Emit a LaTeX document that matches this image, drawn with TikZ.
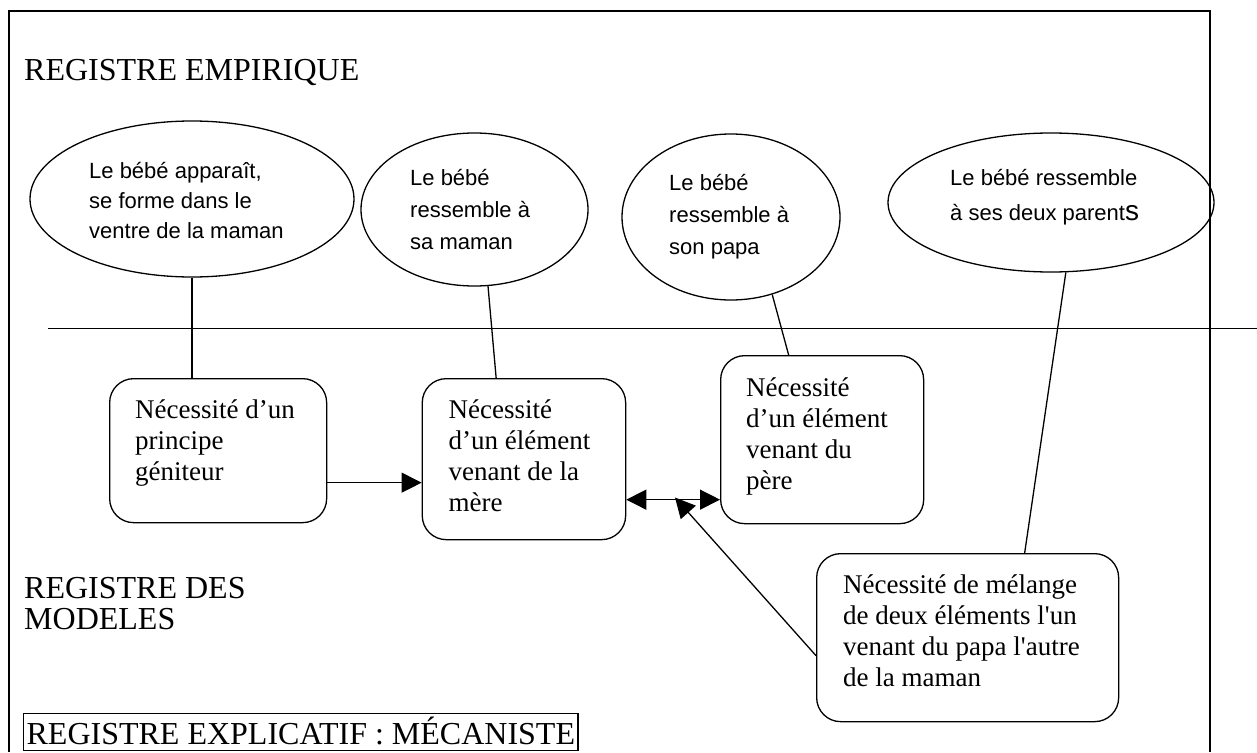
\documentclass[tikz,border=0pt]{standalone}
\usepackage{fontspec}
\setmainfont{Liberation Serif}
\newfontfamily\arialf{Liberation Sans}
\usetikzlibrary{shapes.geometric,arrows.meta,calc}
\begin{document}
\begin{tikzpicture}[x=1pt,y=-1pt,
  ell/.style={draw, ellipse, line width=1.3pt, inner sep=0pt},
  ebox/.style={draw, rounded corners=24pt, line width=1.3pt, inner sep=0pt, anchor=north west},
  etext/.style={anchor=north west, inner sep=0pt, align=left, font=\arialf\fontsize{22}{#1}\selectfont},
  etext/.default=30,
  btext/.style={anchor=north west, inner sep=0pt, align=left, font=\fontsize{27}{31}\selectfont},
  lab/.style={anchor=north west, inner sep=0pt, align=left, font=\fontsize{32}{31}\selectfont},
  conn/.style={line width=1.3pt},
  arr/.style={line width=1.3pt, -{Triangle[length=20pt,width=20pt]}},
  arrtwo/.style={line width=1.3pt, {Triangle[length=20pt,width=20pt]}-{Triangle[length=20pt,width=20pt]}},
]
\useasboundingbox (0,0) rectangle (1257,752);
% frame
\draw[line width=2pt] (9,752) -- (9,11) -- (1210,11) -- (1210,752);
% separating line
\draw[line width=1.5pt] (48,328.5) -- (1257,328.5);

% labels
\node[lab, anchor=base west] (l1) at (24,81) {REGISTRE EMPIRIQUE};
\node[lab] (l2) at (24,576.3) {\strut REGISTRE DES\\MODELES};
\node[draw, line width=1.3pt, font=\fontsize{32}{31}\selectfont, inner xsep=3pt, inner ysep=3pt,
      text height=28pt, text depth=3pt, anchor=south west] (l3) at (23,751) {REGISTRE EXPLICATIF : MÉCANISTE};

% ellipses
\node[ell, minimum width=324pt, minimum height=156pt] (e1) at (192,199) {};
\node[ell, minimum width=227pt, minimum height=153pt] (e2) at (474.5,209.5) {};
\node[ell, minimum width=218pt, minimum height=166pt] (e3) at (731,217) {};
\node[ell, minimum width=326pt, minimum height=139pt] (e4) at (1051,202.5) {};

\node[etext=30] (te1) at (89,157) {\strut Le bébé apparaît,\\se forme dans le\\ventre de la maman};
\node[etext=32] (te2) at (410,162.6) {\strut Le bébé\\ressemble à\\sa maman};
\node[etext=32] (te3) at (669,167.6) {\strut Le bébé\\ressemble à\\son papa};
\node[etext=35] (te4) at (950,160.5) {\strut Le bébé ressemble\\à ses deux parent{\fontsize{28}{35}\selectfont s}};

% boxes
\node[ebox, minimum width=217pt, minimum height=144pt] (b1) at (109,378) {};
\node[ebox, minimum width=203.4pt, minimum height=161pt] (b2) at (421.6,378) {};
\node[ebox, minimum width=203pt, minimum height=168pt] (b3) at (720,355) {};
\node[ebox, minimum width=302pt, minimum height=168pt] (b4) at (816,553) {};

\node[btext] (t1) at (135,396.3) {\strut Nécessité d’un\\principe\\géniteur};
\node[btext] (t2) at (448.5,396.3) {\strut Nécessité\\d’un élément\\venant de la\\mère};
\node[btext] (t3) at (746,375) {\strut Nécessité\\d’un élément\\venant du\\père};
\node[btext] (t4) at (843,571.3) {\strut Nécessité de mélange\\de deux éléments l\textquotesingle un\\venant du papa l\textquotesingle autre\\de la maman};

% connectors
\draw[conn] (e1.south) -- (e1.south |- b1.north);
\draw[conn] (e2.-80) -- ([xshift=-27.8pt]b2.north);
\draw[conn] (e3.-62) -- ([xshift=-33.5pt]b3.north);
\draw[conn] (e4.-78) -- ([xshift=57pt]b4.north);

\draw[arr] ([yshift=-32pt]b1.east) -- ([yshift=-32pt]b1.east -| b2.west);
\draw[arrtwo] ([yshift=-40.5pt]b2.east) -- ([yshift=-40.5pt]b2.east -| b3.west);
\coordinate (mix) at (675,497.5);
\draw[arr] ([yshift=-18pt]b4.west) -- (mix);
\end{tikzpicture}
\end{document}
